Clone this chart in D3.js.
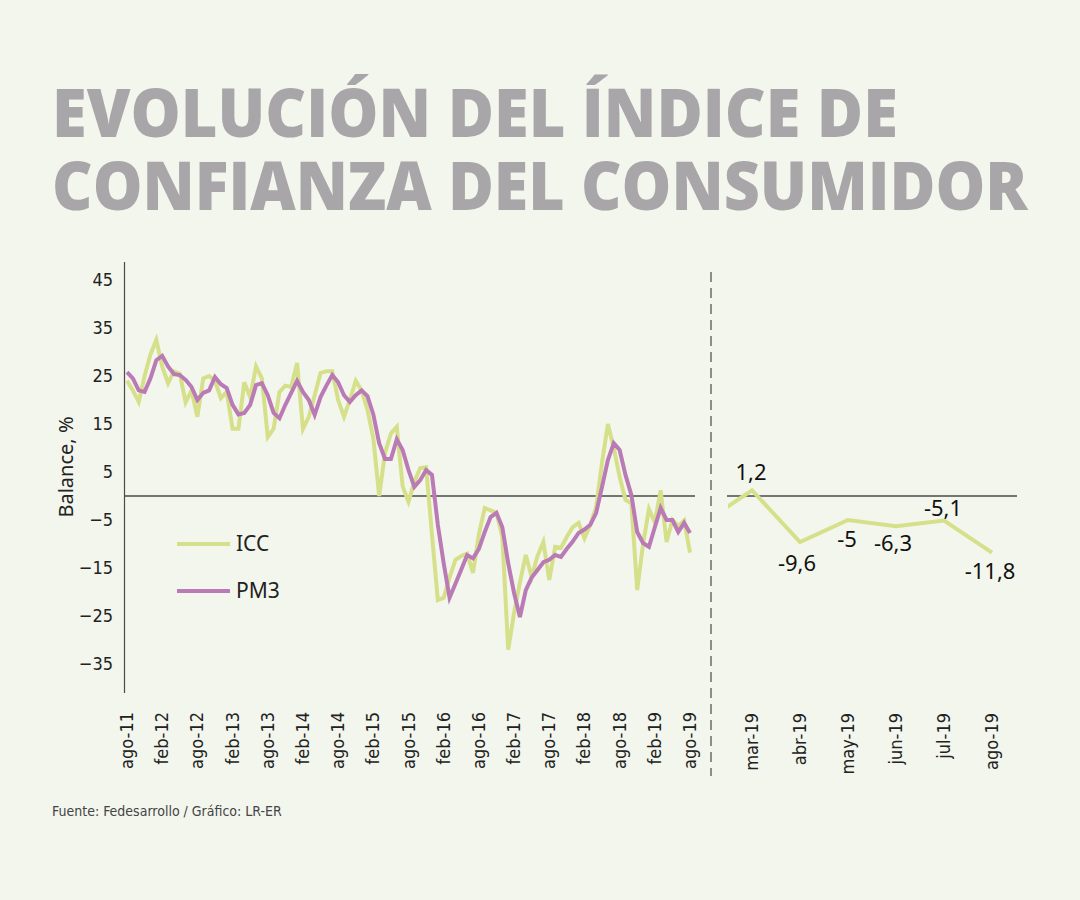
<!DOCTYPE html>
<html>
<head>
<meta charset="utf-8">
<script src="https://cdn.jsdelivr.net/npm/d3@7"></script>
<style>
  html, body { margin: 0; padding: 0; background: #f3f6ed; }
  svg { display: block; }
  .cond { font-family: "Liberation Sans Narrow", "DejaVu Sans Condensed", "Roboto", sans-serif; }
</style>
</head>
<body>
<div id="chart"></div>
<script>
// --- data ---
const monthNames = ['ene', 'feb', 'mar', 'abr', 'may', 'jun', 'jul', 'ago', 'sep', 'oct', 'nov', 'dic'];
const startMonth = new Date(2011, 7, 1);  // ago-11
const endMonth = new Date(2019, 7, 1);    // ago-19

// ICC, monthly balance % (ago-11 ... ago-19)
const icc = [
  24, 22, 19.6, 25, 29.5, 32.5, 27, 23.5, 26, 25.5, 19.5, 22,
  16.5, 24.5, 25, 24, 20.4, 21.7, 14, 14, 23.7, 20.6, 27, 24.5,
  12.3, 14, 21.7, 23, 22.7, 27.7, 14, 16.5, 21, 25.6, 26, 26,
  20, 16.5, 20, 24, 22, 18, 12, 0, 9, 13, 14.4, 2,
  -1.2, 3, 5.8, 6, -8, -21.7, -21.2, -17, -13.3, -12.5, -12, -16,
  -8, -2.5, -3, -3.5, -8.5, -32, -24.4, -18, -12.3, -16.9, -12.5, -9.6,
  -17.5, -10.6, -10.8, -8.5, -6.5, -5.6, -8.8, -6, -2.3, 7, 15, 10,
  4, -0.8, -1.5, -19.6, -10, -2.7, -5.5, 1.2, -9.6, -5, -6.3, -5.1,
  -11.8
];

// PM3, three-month moving average
const pm3 = [
  25.8, 24.5, 22, 21.7, 24.5, 28.3, 29.2, 27, 25.4, 25.2, 24.2, 22.7,
  20, 21.5, 22, 24.8, 23.3, 22.5, 19, 17, 17.3, 19, 23.1, 23.5,
  21, 17.3, 16.2, 19, 21.5, 24, 21.7, 20, 16.9, 20.6, 23, 25.2,
  23.7, 21, 19.6, 21, 22, 20.8, 17, 11, 7.7, 7.7, 11.8, 9.6,
  5.4, 1.9, 3.3, 5.4, 4.4, -6, -14, -21.2, -18.3, -15.3, -12.3, -13,
  -11, -7.5, -4.4, -3.5, -6.5, -14, -20.2, -25.2, -19.6, -17, -15.4, -13.8,
  -13.3, -12.3, -12.7, -11, -9.5, -7.7, -7, -6, -3.5, 1.9, 7.5, 11,
  9.6, 4.4, 0.2, -7.5, -9.8, -10.6, -6.5, -2.5, -5, -5, -7.5, -5.6,
  -7.7
];

const xTickLabels = ['ago-11', 'feb-12', 'ago-12', 'feb-13', 'ago-13', 'feb-14', 'ago-14', 'feb-15',
  'ago-15', 'feb-16', 'ago-16', 'feb-17', 'ago-17', 'feb-18', 'ago-18', 'feb-19', 'ago-19'];
const yTicks = [-35, -25, -15, -5, 5, 15, 25, 35, 45];

// recent months (right panel)
const recentMonths = ['feb-19', 'mar-19', 'abr-19', 'may-19', 'jun-19', 'jul-19', 'ago-19'];
const recentIcc = [-5.5, 1.2, -9.6, -5, -6.3, -5.1, -11.8];
const recentLabels = ['', '1,2', '-9,6', '-5', '-6,3', '-5,1', '-11,8'];

// label placement relative to each point (px)
const labelDx = [0, -1, -3, -1, -3, -1, -2];
const labelDy = [0, -10, 29, 27, 25, -4, 26];

const titleLines = ['EVOLUCIÓN DEL ÍNDICE DE', 'CONFIANZA DEL CONSUMIDOR'];

const colors = { icc: '#d6e08a', pm3: '#b97ab6', title: '#a8a6a9', axis: '#4a4a4a', text: '#222' };

// --- setup ---
const W = 1080, H = 900;
const svg = d3.select('#chart').append('svg').attr('width', W).attr('height', H);
svg.append('rect').attr('width', W).attr('height', H).attr('fill', '#f3f6ed');

// title: each line squeezed horizontally to the width it has in the original
const titleWidths = [846, 976];
const titleBase = [137, 210];
titleLines.forEach((t, i) => {
  const g = svg.append('g');
  const txt = g.append('text')
    .attr('font-family', '"Open Sans", "Noto Sans", sans-serif')
    .attr('font-weight', 800)
    .attr('font-size', 67)
    .attr('fill', colors.title)
    .text(t);
  const w = txt.node().getComputedTextLength();
  g.attr('transform', `translate(52,${titleBase[i]}) scale(${titleWidths[i] / w},1)`);
});

const dates = d3.timeMonth.range(startMonth, d3.timeMonth.offset(endMonth, 1));
const fmt = d => monthNames[d.getMonth()] + '-' + String(d.getFullYear()).slice(2);
const categories = dates.map(fmt);

const x = d3.scalePoint().domain(categories).range([127, 690]);
const y = d3.scaleLinear().domain([-35, 45]).range([664, 280]);

// y axis
svg.append('line')
  .attr('x1', 124.5).attr('x2', 124.5).attr('y1', 262).attr('y2', 693)
  .attr('stroke', colors.axis).attr('stroke-width', 1.2);

const yAxis = svg.append('g')
  .attr('transform', 'translate(113,0)')
  .call(d3.axisLeft(y).tickValues(yTicks).tickSize(0).tickPadding(0).tickFormat(d3.format('d')));
yAxis.select('.domain').remove();
yAxis.selectAll('text').attr('font-size', 18).attr('fill', colors.text)
  .attr('font-family', '"Liberation Sans Narrow", "DejaVu Sans Condensed", sans-serif');

svg.append('text')
  .attr('transform', 'translate(73,467) rotate(-90)')
  .attr('text-anchor', 'middle')
  .attr('font-family', '"Noto Sans", sans-serif')
  .attr('font-size', 20)
  .attr('fill', colors.text)
  .text('Balance, %');

// zero line (left)
svg.append('line')
  .attr('x1', 124).attr('x2', 695).attr('y1', y(0)).attr('y2', y(0))
  .attr('stroke', colors.axis).attr('stroke-width', 1.3);

// x tick labels (left)
svg.append('g').selectAll('text')
  .data(xTickLabels)
  .join('text')
  .attr('class', 'cond')
  .attr('transform', d => `translate(${x(d) + 6},712) rotate(-90)`)
  .attr('text-anchor', 'end')
  .attr('font-size', 18)
  .attr('fill', colors.text)
  .text(d => d);

// series
const line = d3.line()
  .x((d, i) => x(categories[i]))
  .y(d => y(d));

svg.append('path')
  .datum(icc)
  .attr('d', line)
  .attr('fill', 'none')
  .attr('stroke', colors.icc)
  .attr('stroke-width', 4);

svg.append('path')
  .datum(pm3)
  .attr('d', line)
  .attr('fill', 'none')
  .attr('stroke', colors.pm3)
  .attr('stroke-width', 4);

// legend
const legend = svg.append('g').attr('font-family', '"Noto Sans", sans-serif').attr('font-size', 21).attr('fill', colors.text);
[['ICC', colors.icc, 544], ['PM3', colors.pm3, 591]].forEach(([name, c, ly]) => {
  legend.append('line').attr('x1', 177).attr('x2', 230).attr('y1', ly).attr('y2', ly)
    .attr('stroke', c).attr('stroke-width', 4);
  legend.append('text').attr('x', 236).attr('y', ly + 7).text(name);
});

// divider
svg.append('line')
  .attr('x1', 711).attr('x2', 711).attr('y1', 272).attr('y2', 776)
  .attr('stroke', colors.axis).attr('stroke-width', 1.2)
  .attr('stroke-dasharray', '10,6');

// right panel
const xr = d3.scalePoint().domain(recentMonths).range([704, 992]);

svg.append('line')
  .attr('x1', 727).attr('x2', 1017).attr('y1', y(0)).attr('y2', y(0))
  .attr('stroke', colors.axis).attr('stroke-width', 1.3);

svg.append('clipPath').attr('id', 'rclip')
  .append('rect').attr('x', 728).attr('y', 250).attr('width', 320).attr('height', 500);

svg.append('path')
  .datum(recentIcc)
  .attr('clip-path', 'url(#rclip)')
  .attr('d', d3.line().x((d, i) => xr(recentMonths[i])).y(d => y(d)))
  .attr('fill', 'none')
  .attr('stroke', colors.icc)
  .attr('stroke-width', 4);

svg.append('g').selectAll('text')
  .data(recentIcc)
  .join('text')
  .attr('x', (d, i) => xr(recentMonths[i]) + labelDx[i])
  .attr('y', (d, i) => y(d) + labelDy[i])
  .attr('text-anchor', 'middle')
  .attr('font-family', '"Noto Sans", sans-serif')
  .attr('font-size', 22)
  .attr('fill', '#111')
  .text((d, i) => recentLabels[i]);

svg.append('g').selectAll('text')
  .data(recentMonths.slice(1))
  .join('text')
  .attr('class', 'cond')
  .attr('transform', d => `translate(${xr(d) + 6},713) rotate(-90)`)
  .attr('text-anchor', 'end')
  .attr('font-size', 18)
  .attr('fill', colors.text)
  .text(d => d);

// source
svg.append('text')
  .attr('x', 52).attr('y', 816)
  .attr('class', 'cond')
  .attr('font-size', 14)
  .attr('fill', '#444')
  .text('Fuente: Fedesarrollo / Gráfico: LR-ER');
</script>
</body>
</html>
